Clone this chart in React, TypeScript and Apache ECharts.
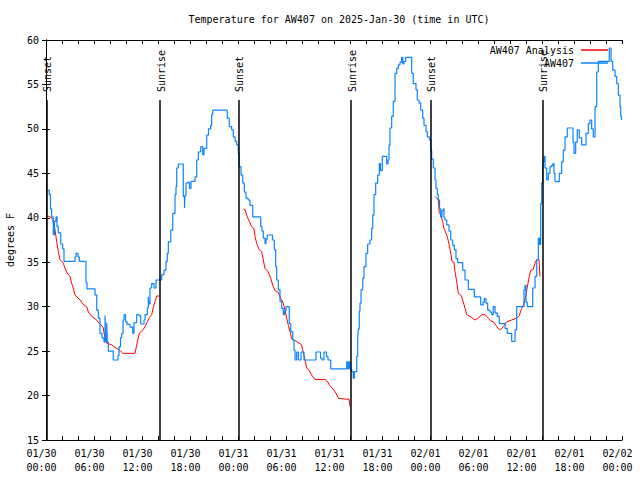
import React, { useEffect, useRef } from 'react';
import * as echarts from 'echarts';

const FONT = '"DejaVu Sans Mono", "Liberation Mono", monospace';

const xTickLabels = [
  '01/30\n00:00', '01/30\n06:00', '01/30\n12:00', '01/30\n18:00',
  '01/31\n00:00', '01/31\n06:00', '01/31\n12:00', '01/31\n18:00',
  '02/01\n00:00', '02/01\n06:00', '02/01\n12:00', '02/01\n18:00',
  '02/02\n00:00',
];

// AW407 observations: hours since 2025-01-30 00:00 UTC, degrees F
const blueHours = [
  0, 0.41, 0.56, 0.71, 0.91, 1.06, 1.25, 1.38, 1.54, 1.84, 2.09, 2.25,
  3.63, 3.75, 4.0, 4.16, 5.0, 5.13, 6.13, 6.34, 6.54, 6.75, 7.0, 7.25,
  7.38, 7.46, 7.59, 7.66, 7.79, 8.41, 9.0, 9.13, 9.31, 9.46, 9.63, 9.75,
  9.94, 10.13, 10.5, 10.84, 11.0, 11.34, 11.63, 11.84, 12.25, 12.38, 12.66, 12.79,
  12.85, 13.0, 13.21, 13.5, 13.75, 14.46, 14.75, 15.0, 15.16, 15.29, 15.59, 15.84,
  16.13, 16.25, 16.34, 16.54, 17.16, 17.31, 17.38, 17.5, 17.75, 17.94, 18.13, 18.63,
  18.84, 19.04, 19.34, 19.59, 19.75, 20.09, 20.31, 20.59, 20.71, 20.84, 22.66, 22.91,
  23.21, 23.41, 23.63, 23.84, 24.04, 24.16, 24.38, 24.59, 24.79, 25.0, 25.25, 25.5,
  25.84, 26.84, 27.0, 27.16, 27.38, 27.5, 27.66, 28.31, 28.54, 28.71, 28.84, 29.04,
  29.25, 29.46, 29.66, 29.81, 30.0, 30.41, 30.59, 30.84, 31.0, 31.13, 31.34, 31.54,
  31.88, 32.25, 33.75, 34.31, 34.5, 34.75, 35.06, 35.25, 35.59, 37.59, 37.75, 37.88,
  38.0, 38.21, 38.41, 38.56, 38.84, 38.96, 39.04, 39.16, 39.25, 39.38, 39.59, 39.75,
  40.0, 40.21, 40.5, 40.71, 40.84, 41.0, 41.21, 41.46, 41.66, 41.81, 42.04, 42.38,
  42.59, 42.75, 42.88, 43.0, 43.21, 43.41, 43.63, 43.84, 44.04, 44.25, 44.46, 44.59,
  44.75, 44.96, 45.71, 45.91, 46.25, 46.41, 46.63, 46.84, 47.09, 47.25, 47.5, 47.66,
  47.91, 48.09, 48.21, 48.41, 48.63, 48.75, 48.91, 49.04, 49.19, 49.34, 49.5, 49.66,
  49.75, 49.88, 50.09, 50.38, 50.59, 50.84, 51.04, 51.25, 51.46, 52.09, 52.38, 52.79,
  53.54, 54.34, 54.63, 54.79, 55.0, 55.21, 55.5, 55.71, 55.91, 56.13, 56.41, 56.66,
  57.38, 57.66, 58.21, 58.63, 58.84, 59.75, 59.88, 60.0, 60.16, 60.84, 61.13, 61.34,
  61.54, 61.69, 61.84, 61.96, 62.09, 62.25, 62.38, 62.59, 62.79, 63.0, 63.21, 63.38,
  63.5, 63.63, 64.16, 64.46, 64.66, 64.88, 65.16, 65.88, 66.0, 66.21, 66.41, 66.66,
  66.96, 67.5, 67.79, 68.0, 68.21, 68.41, 68.63, 68.84, 69.04, 70.41, 70.63, 70.84,
  71.13, 71.34, 71.54, 71.75, 71.84, 71.94,
];
const blueTemps = [
  43.1, 42.6, 41.0, 40.1, 38.1, 39.6, 40.1, 39.0, 38.3, 37.05, 36.5, 35.1,
  35.6, 36.0, 35.6, 35.1, 32.7, 32.0, 31.3, 29.6, 28.7, 27.0, 26.5, 26.0,
  29.0, 26.1, 28.2, 26.0, 25.0, 24.0, 24.5, 25.5, 26.5, 27.0, 28.5, 29.1,
  28.3, 28.0, 27.7, 27.0, 28.2, 29.1, 29.0, 28.05, 28.5, 29.1, 29.85, 31.1,
  30.3, 32.1, 32.6, 32.1, 33.0, 33.6, 34.1, 35.1, 36.0, 37.3, 38.6, 40.5,
  42.6, 43.5, 45.6, 46.05, 42.4, 41.1, 42.5, 43.9, 44.0, 43.3, 44.1, 44.6,
  46.5, 47.4, 48.0, 47.1, 47.8, 49.3, 50.0, 50.4, 51.6, 52.1, 51.2, 50.25,
  49.9, 49.1, 48.6, 48.2, 47.25, 45.75, 44.8, 43.9, 42.9, 42.2, 42.0, 41.4,
  40.1, 39.0, 38.5, 37.7, 37.1, 37.6, 38.06, 37.5, 36.4, 34.5, 33.0, 31.9,
  30.6, 29.8, 29.1, 29.5, 30.0, 28.1, 27.2, 26.25, 25.1, 24.0, 24.9, 24.0,
  24.9, 24.0, 24.9, 24.2, 24.0, 24.9, 24.4, 24.0, 23.0, 23.8, 23.0, 23.8,
  23.0, 22.7, 21.95, 22.7, 24.4, 26.25, 27.5, 29.5, 30.4, 31.9, 33.2, 34.5,
  36.0, 37.05, 37.5, 38.8, 40.3, 42.6, 43.9, 44.8, 46.1, 45.3, 46.9, 46.9,
  46.05, 46.5, 48.2, 50.1, 51.4, 53.1, 56.25, 56.8, 57.2, 57.5, 58.05, 57.3,
  57.6, 58.05, 56.25, 55.1, 54.4, 53.25, 52.9, 52.1, 51.2, 50.4, 49.7, 49.1,
  48.75, 47.6, 46.6, 45.6, 44.25, 43.3, 42.6, 42.0, 41.0, 40.1, 40.8, 41.0,
  40.0, 39.75, 39.2, 38.5, 37.5, 36.9, 36.4, 35.4, 34.95, 34.1, 33.0, 31.95,
  31.1, 30.2, 30.5, 30.9, 30.4, 29.6, 29.4, 29.1, 30.0, 29.3, 28.9, 28.1,
  27.55, 27.0, 26.1, 27.4, 30.0, 31.9, 32.4, 30.5, 30.0, 32.1, 33.4, 35.25,
  37.7, 37.0, 41.6, 43.9, 46.3, 46.9, 45.6, 44.25, 45.0, 45.75, 45.9, 46.1,
  45.0, 44.06, 45.0, 46.3, 47.6, 49.1, 50.1, 48.5, 47.25, 48.5, 49.9, 49.0,
  48.2, 49.5, 50.6, 51.0, 50.0, 49.1, 52.5, 56.4, 57.6, 59.1, 57.6, 56.6,
  55.9, 55.1, 53.8, 52.5, 51.4, 51.0,
];

// AW407 Analysis (night-time only; null = gap)
const redHours = [
  0, 0.71, 1.0, 1.34, 1.54, 1.75, 2.16, 2.38, 2.63, 3.0, 3.21, 3.41, 3.63, 4.25,
  4.66, 5.09, 5.29, 5.71, 6.34, 6.66, 6.96, 7.16, 7.38, 7.59, 8.21, 8.63, 9.25,
  9.59, 11.13, 11.34, 11.66, 12.13, 12.38, 12.66, 12.91, 13.21, 13.41, 13.63, 13.84, 14.16,
  19,
  24.66, 24.88, 25.16, 25.41, 25.71, 26.0, 26.13, 26.34, 26.66, 26.96, 27.16, 27.38,
  27.79, 28.09, 28.34, 28.63, 29.04, 29.25, 29.66, 29.88, 30.09, 30.29, 30.5, 30.71,
  31.13, 31.54, 31.96, 32.09, 32.38, 32.59, 32.91, 33.21, 33.63, 34.88, 35.16, 35.41,
  35.63, 36.0, 36.25, 36.54, 37.38, 37.88, 38.0,
  43,
  48.63, 49.04, 49.16, 49.34, 49.59, 49.75, 50.16, 50.41, 50.59, 50.75, 51.0, 51.13,
  51.34, 51.54, 51.84, 52.09, 52.38, 52.59, 53.0, 53.63, 54.04, 54.46, 54.88, 55.29,
  55.59, 55.91, 56.25, 56.54, 56.84, 57.16, 57.59, 58.21, 58.84, 59.16, 59.46, 59.75,
  60.0, 60.16, 60.41, 60.59, 60.91, 61.13, 61.34, 61.63, 61.75,
];
const redTemps = [
  40.3, 40.0, 39.4, 37.3, 36.2, 35.3, 34.9, 34.3, 33.8, 33.4, 32.6, 32.1, 31.3, 30.75,
  30.25, 30.0, 29.4, 28.9, 28.5, 28.1, 27.9, 27.6, 26.4, 25.9, 25.7, 25.4, 25.1,
  24.75, 24.75, 25.7, 27.0, 27.4, 27.75, 28.3, 28.75, 29.1, 29.9, 30.6, 31.2, 31.2,
  null,
  41.0, 40.9, 40.1, 39.6, 39.0, 38.8, 37.9, 37.1, 36.4, 36.2, 35.25, 34.3,
  33.9, 33.2, 32.4, 31.8, 31.6, 31.1, 30.4, 29.6, 28.7, 27.9, 27.2, 26.4,
  26.2, 25.95, 25.7, 25.1, 24.0, 23.1, 22.8, 22.3, 21.8, 21.8, 21.6, 21.2,
  21.0, 20.6, 20.25, 19.7, 19.6, 19.6, 18.8,
  null,
  42.4, 42.0, 40.6, 40.3, 39.55, 38.8, 37.9, 36.9, 36.0, 35.1, 35.0, 33.9,
  32.8, 31.5, 31.3, 30.75, 29.8, 29.1, 28.9, 28.5, 28.7, 29.1, 29.1, 28.7,
  28.4, 28.3, 27.9, 27.55, 27.4, 27.75, 28.3, 28.5, 28.7, 29.0, 29.8, 30.4,
  31.3, 32.2, 33.4, 34.1, 34.2, 34.9, 35.3, 35.3, 33.4,
];

const sunHours = [0.05, 14.25, 24.05, 38.15, 48.1, 62.1];
const sunLabels = ['Sunset', 'Sunrise', 'Sunset', 'Sunrise', 'Sunset', 'Sunrise'];
const sunLineTop = 53.25;

export default function App() {
  const ref = useRef<HTMLDivElement>(null);
  useEffect(() => {
    if (!ref.current) return;
    const chart = echarts.init(ref.current, null, { renderer: 'svg' });
    const axisLine = { show: true, lineStyle: { color: '#000', width: 1 } };
    const tick = { show: true, inside: true, length: 4, lineStyle: { color: '#000' } };
    const xCommon = {
      type: 'value' as const,
      min: 0,
      max: 72,
      interval: 6,
      axisLine,
      axisTick: tick,
      minorTick: { show: true, splitNumber: 3, length: 4, lineStyle: { color: '#000' } },
      splitLine: { show: false },
    };
    const yCommon = {
      type: 'value' as const,
      min: 15,
      max: 60,
      interval: 5,
      axisLine,
      axisTick: tick,
      splitLine: { show: false },
    };
    chart.setOption({
      animation: false,
      backgroundColor: '#fff',
      textStyle: { fontFamily: FONT },
      title: {
        text: 'Temperature for AW407 on 2025-Jan-30 (time in UTC)',
        left: 334,
        top: 9,
        textAlign: 'center',
        textStyle: { fontFamily: FONT, fontSize: 10, fontWeight: 'normal', color: '#000' },
      },
      legend: {
        data: [
          { name: 'AW407 Analysis', icon: 'rect', itemStyle: { color: '#ff0000' } },
          { name: 'AW407', icon: 'rect', itemStyle: { color: '#0a84ff' } },
        ],
        orient: 'vertical',
        right: 27,
        top: 39,
        align: 'right',
        itemWidth: 27,
        itemHeight: 1.5,
        itemGap: 1,
        textStyle: { fontFamily: FONT, fontSize: 10, color: '#000', padding: [0, 2, 0, 0], lineHeight: 12 },
      },
      grid: { left: 46, right: 18, top: 40, bottom: 40, containLabel: false, outerBoundsMode: 'none' },
      xAxis: [
        {
          ...xCommon,
          position: 'bottom',
          axisLabel: {
            show: true,
            fontFamily: FONT,
            fontSize: 10,
            color: '#000',
            lineHeight: 14,
            margin: 6,
            padding: [0, 9, 0, 0],
            formatter: (v: number) => xTickLabels[Math.round(v / 6)] ?? '',
          },
        },
        { ...xCommon, position: 'top', axisLabel: { show: false } },
      ],
      yAxis: [
        {
          ...yCommon,
          position: 'left',
          name: 'degrees F',
          nameLocation: 'middle',
          nameGap: 31,
          nameTextStyle: { fontFamily: FONT, fontSize: 10, color: '#000' },
          axisLabel: { fontFamily: FONT, fontSize: 10, color: '#000', margin: 7 },
        },
        { ...yCommon, position: 'right', axisLabel: { show: false } },
      ],
      series: [
        {
          name: 'AW407 Analysis',
          type: 'line',
          symbol: 'none',
          connectNulls: false,
          color: '#ff0000',
          lineStyle: { color: '#ff0000', width: 1 },
          data: redHours.map((h, i) => [h, redTemps[i]]),
          z: 3,
          markLine: {
            silent: true,
            symbol: ['none', 'none'],
            label: { show: false },
            lineStyle: { color: '#000', width: 1.5, type: 'solid' },
            data: sunHours.map((h) => [
              { coord: [h, 15] },
              { coord: [h, sunLineTop] },
            ]),
          },
        },
        {
          name: 'AW407',
          type: 'line',
          symbol: 'none',
          step: 'end',
          color: '#0a84ff',
          lineStyle: { color: '#0a84ff', width: 1.2 },
          data: blueHours.map((h, i) => [h, blueTemps[i]]),
          z: 4,
        },
      ],
    });
    const texts = sunHours.map((h, i) => {
      const p = chart.convertToPixel({ xAxisIndex: 0, yAxisIndex: 0 }, [h, sunLineTop]) as number[];
      return {
        type: 'text',
        x: p[0] + 1,
        y: p[1] - 8,
        rotation: Math.PI / 2,
        style: {
          text: sunLabels[i],
          font: '10px ' + FONT,
          fill: '#000',
          textAlign: 'left',
          textVerticalAlign: 'middle',
        },
      };
    });
    chart.setOption({ graphic: texts });
    return () => chart.dispose();
  }, []);
  return <div ref={ref} style={{ width: 640, height: 480, position: 'absolute', left: 0, top: 0 }} />;
}
